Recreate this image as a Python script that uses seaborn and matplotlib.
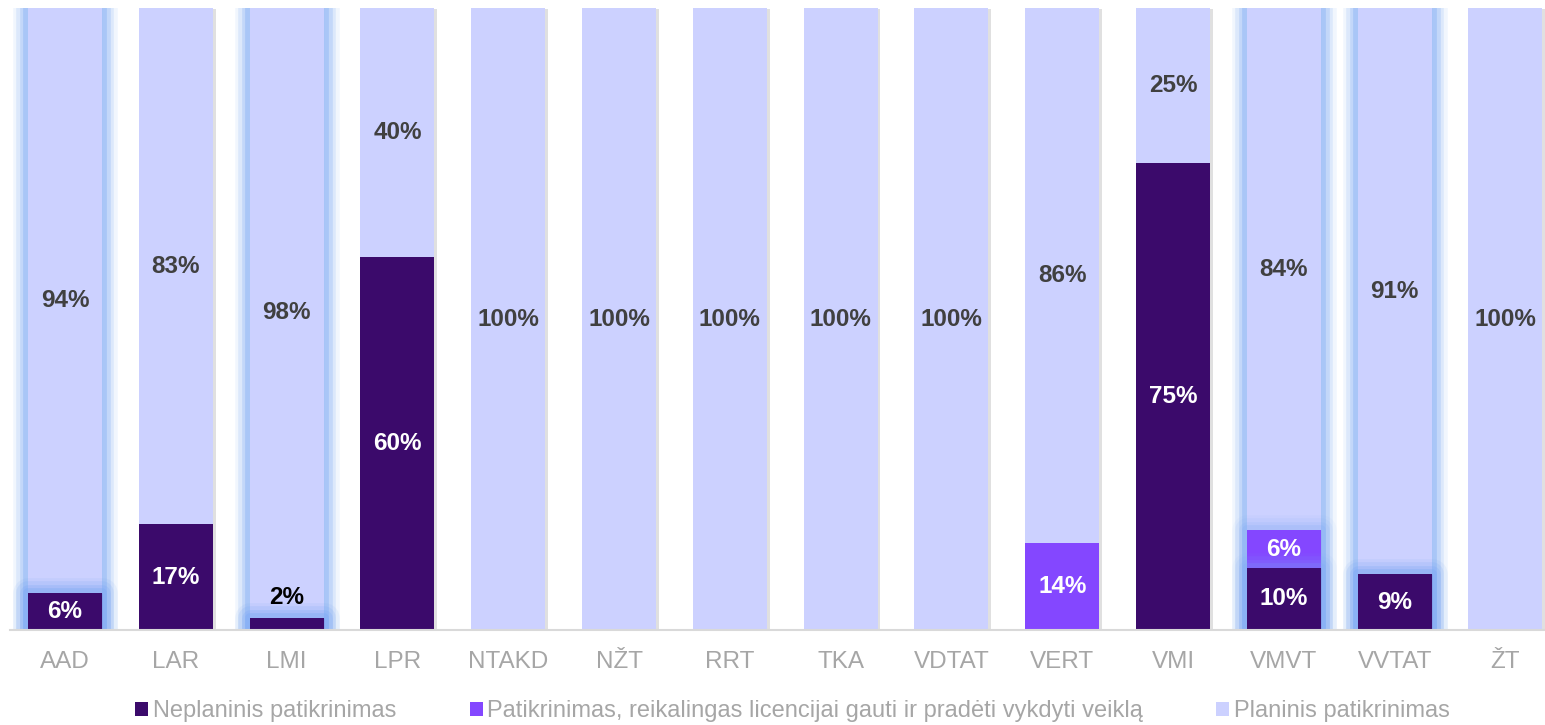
import matplotlib.pyplot as plt
import matplotlib.patheffects as pe
from matplotlib.patches import Patch
import numpy as np
import seaborn as sns

categories = ['AAD', 'LAR', 'LMI', 'LPR', 'NTAKD', 'NŽT', 'RRT', 'TKA', 'VDTAT', 'VERT', 'VMI', 'VMVT', 'VVTAT', 'ŽT']
neplaninis = [6, 17, 2, 60, 0, 0, 0, 0, 0, 0, 75, 10, 9, 0]
licencija = [0, 0, 0, 0, 0, 0, 0, 0, 0, 14, 0, 6, 0, 0]
planinis = [94, 83, 98, 40, 100, 100, 100, 100, 100, 86, 25, 84, 91, 100]
series_names = ['Neplaninis patikrinimas',
                'Patikrinimas, reikalingas licencijai gauti ir pradėti vykdyti veiklą',
                'Planinis patikrinimas']
colors = ['#3B0A6B', '#8447FF', '#CCD1FF']
glow_bars = ['AAD', 'LMI', 'VMVT', 'VVTAT']

sns.set_style('white')
plt.rcParams['font.family'] = ['Liberation Sans', 'DejaVu Sans']

fig = plt.figure(figsize=(15.45, 7.25), dpi=100)
ax = fig.add_axes([0.0062, 0.131, 0.9938, 0.858])

nep = np.array(neplaninis)
lic = np.array(licencija)
pla = np.array(planinis)


def glow(strength):
    fx = []
    for lw, a in [(22, 0.10), (17, 0.17), (12, 0.25), (7, 0.35)]:
        fx.append(pe.Stroke(linewidth=lw, foreground='#7AA8F5', alpha=a * strength, joinstyle='round'))
    fx.append(pe.Normal())
    return fx


# stacked by overlaying cumulative heights
layers = [nep + lic + pla, nep + lic, nep]
layer_colors = [colors[2], colors[1], colors[0]]
n = len(categories)
for i, (h, c) in enumerate(zip(layers, layer_colors)):
    before = len(ax.patches)
    sns.barplot(x=categories, y=h, color=c, saturation=1, width=0.668, linewidth=0, ax=ax)
    new = ax.patches[before:]
    for cat, p in zip(categories, new):
        if cat in glow_bars:
            p.set_path_effects(glow(1.0 if i == 0 else 0.5))
        elif i == 0:
            p.set_path_effects([pe.SimplePatchShadow(offset=(2, -1), shadow_rgbFace='#999999', alpha=0.3),
                                pe.Normal()])

# value labels
for x in range(n):
    bottom = 0
    for vals, tc in zip([nep, lic, pla], ['white', 'white', '#404040']):
        v = vals[x]
        if v > 0:
            if v < 4:
                ax.text(x, bottom + v + 3.3, f'{v}%', ha='center', va='center',
                        fontsize=17.5, fontweight='bold', color='black')
            else:
                ax.text(x, bottom + v / 2, f'{v}%', ha='center', va='center',
                        fontsize=17.5, fontweight='bold', color=tc)
        bottom += v

ax.set_xlim(-0.5, 13.357)
ax.set_ylim(0, 100)
ax.set_yticks([])
ax.set_ylabel('')
for s in ['top', 'right', 'left']:
    ax.spines[s].set_visible(False)
ax.spines['bottom'].set_color('#D9D9D9')
ax.spines['bottom'].set_linewidth(1.5)
ax.spines['bottom'].set_zorder(5)
ax.tick_params(axis='x', length=0, pad=15, labelsize=17.5, labelcolor='#A6A6A6')

handles = [Patch(facecolor=c, edgecolor='none') for c in colors]
fig.legend(handles, series_names, loc='center', bbox_to_anchor=(0.513, 0.019), ncol=3,
           frameon=False, handlelength=0.55, handleheight=0.55, handletextpad=0.2,
           columnspacing=3.1, fontsize=17, labelcolor='#A6A6A6')

fig.savefig('out.png', dpi=100)
